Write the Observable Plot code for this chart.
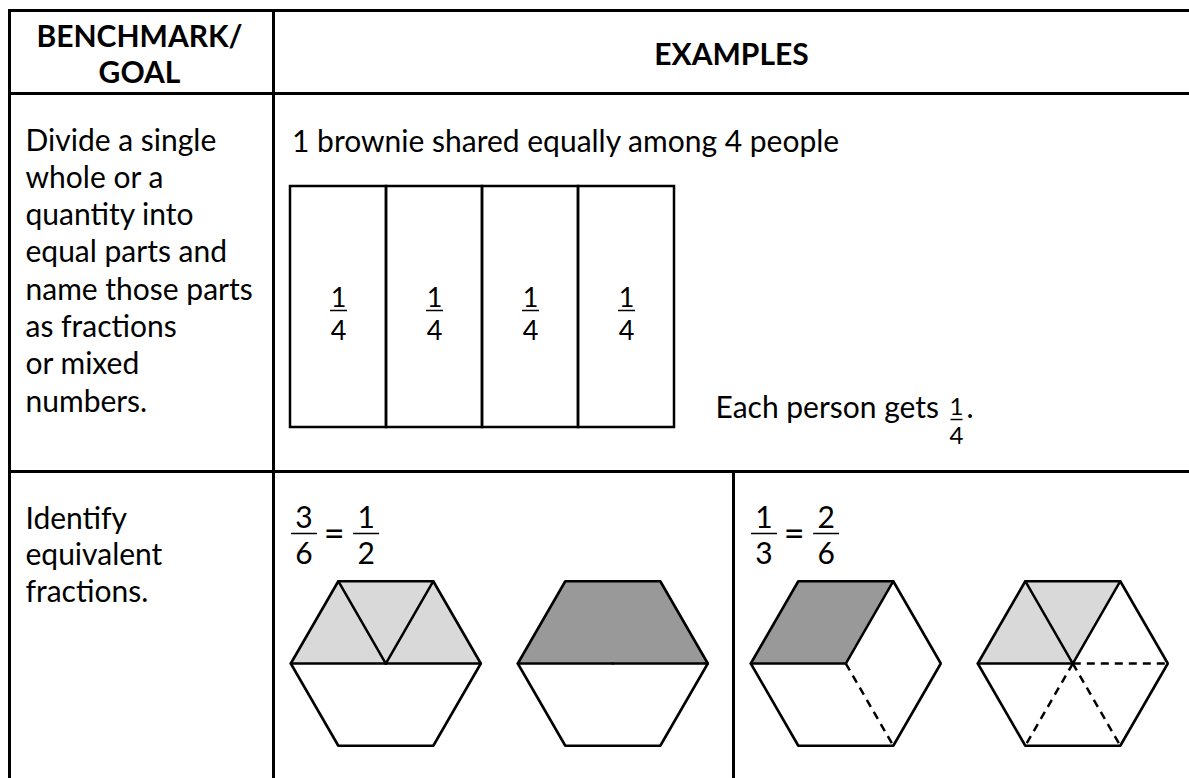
<!DOCTYPE html>
<html><head><meta charset="utf-8">
<script src="https://cdn.jsdelivr.net/npm/d3@7"></script>
<script src="https://cdn.jsdelivr.net/npm/@observablehq/plot@0.6"></script>
<style>html,body{margin:0;padding:0;background:#fff;} svg{display:block}</style>
</head><body><div id="chart"></div>
<script>
// ---------------- data ----------------
const headerLines = [["BENCHMARK/", "GOAL"], ["EXAMPLES"]];
const goalLines1 = ["Divide a single", "whole or a", "quantity into", "equal parts and", "name those parts", "as fractions", "or mixed", "numbers."];
const goalLines2 = ["Identify", "equivalent", "fractions."];
const exampleTitle = "1 brownie shared equally among 4 people";
const brownieNumerators = [1, 1, 1, 1];
const brownieDenominator = 4;
const eachGetsText = ["Each person gets", "."];
const eachGetsFraction = [1, 4];
const equivalences = [[[3, 6], [1, 2]], [[1, 3], [2, 6]]];
// hexagon models: sectors numbered from the right vertex counter-clockwise (0..5), spokes in degrees
const hexModels = [
  {group: 0, pieces: [[0], [1], [2]], shade: "light", solid: [0, 60, 120, 180], dashed: []},
  {group: 0, pieces: [[0, 1, 2]], shade: "dark", solid: [0, 180], dashed: []},
  {group: 1, pieces: [[1, 2]], shade: "dark", solid: [60, 180], dashed: [300]},
  {group: 1, pieces: [[1], [2]], shade: "light", solid: [60, 120, 180], dashed: [0, 240, 300]}
];
const shades = {light: "#d9d9d9", dark: "#999999"};

// ---------------- layout ----------------
const W = 1189, H = 778;
const L = {left: 9, split: 273, right: 1189, split2: 733, top: 10, head: 93, row: 471, bottom: 778};
const FONT = "Lato, 'Open Sans', sans-serif";
const BODY = 30;

const texts = [];
const bars = [];
function addText(x, y, text, opts = {}) {
  texts.push({x, y, text, size: opts.size ?? BODY, weight: opts.weight ?? "normal", anchor: opts.anchor ?? "start"});
}
function addFraction(cx, barY, num, den, size, barW, gapN, gapD) {
  addText(cx, barY - gapN, String(num), {size, anchor: "middle"});
  addText(cx, barY + gapD, String(den), {size, anchor: "middle"});
  bars.push({x1: cx - barW / 2, x2: cx + barW / 2, y1: barY, y2: barY});
}

// table lines
const tableLines = [
  {x1: L.left, y1: L.top, x2: L.right, y2: L.top},
  {x1: L.left, y1: L.head, x2: L.right, y2: L.head},
  {x1: L.left, y1: L.row, x2: L.right, y2: L.row},
  {x1: L.left, y1: L.top, x2: L.left, y2: L.bottom},
  {x1: L.split, y1: L.top, x2: L.split, y2: L.bottom},
  {x1: L.split2, y1: L.row, x2: L.split2, y2: L.bottom}
];

// headers
headerLines[0].forEach((t, i) => addText((L.left + L.split) / 2 - 2, L.top + 36 + i * 36, t, {weight: "bold", anchor: "middle"}));
headerLines[1].forEach((t, i) => addText((L.split + L.right) / 2, L.top + 54 + i * 36, t, {weight: "bold", anchor: "middle"}));

// goals
const step = 37.3;
goalLines1.forEach((t, i) => addText(L.left + 16, L.head + 57 + i * step, t));
goalLines2.forEach((t, i) => addText(L.left + 16, L.row + 57 + i * 36.5, t));

// example 1
addText(L.split + 18.5, L.head + 58, exampleTitle);
const box = {x: L.split + 17, y: L.head + 93, w: 384, h: 241};
const cellW = box.w / brownieNumerators.length;
const boxCells = brownieNumerators.map((n, i) => ({x1: box.x + i * cellW, x2: box.x + (i + 1) * cellW, y1: box.y, y2: box.y + box.h}));
brownieNumerators.forEach((n, i) => addFraction(box.x + (i + 0.5) * cellW, box.y + 124, n, brownieDenominator, 27, 17, 4, 29.5));
addText(715, L.row - 54, eachGetsText[0]);
addFraction(956, L.row - 52, eachGetsFraction[0], eachGetsFraction[1], 24, 12, 5, 24.5);
addText(966, L.row - 54, eachGetsText[1]);

// example 2: equivalences
const cellLefts = [L.split, L.split2];
const eqOffsets = [30.5, 60.7, 92.6];
const eqBarY = L.row + 62;
equivalences.forEach((pair, g) => {
  const x0 = cellLefts[g];
  addFraction(x0 + eqOffsets[0], eqBarY, pair[0][0], pair[0][1], 30, 26, 5.5, 30.5);
  addText(x0 + eqOffsets[1], eqBarY + 0.5, "=", {size: 36, anchor: "middle"});
  addFraction(x0 + eqOffsets[2], eqBarY, pair[1][0], pair[1][1], 30, 26, 5.5, 30.5);
});
const eqSigns = texts.filter(d => d.text === "=");
const plainTexts = texts.filter(d => d.text !== "=");

// hexagons
const R = 95, hexCY = L.row + 192;
const hexOffsets = [112.3, 339.3];
const vtx = (cx, a) => [cx + R * Math.cos(a * Math.PI / 180), hexCY - R * Math.sin(a * Math.PI / 180)];
const polys = [], outlines = [], solidSpokes = [], dashedSpokes = [];
let groupCount = [0, 0];
hexModels.forEach((m, h) => {
  const cx = cellLefts[m.group] + hexOffsets[groupCount[m.group]++];
  for (let k = 0; k < 6; k++) { const [x, y] = vtx(cx, k * 60); outlines.push({id: h, x, y}); }
  m.pieces.forEach((secs, p) => {
    const id = `${h}-${p}`;
    polys.push({id, shade: m.shade, x: cx, y: hexCY});
    for (let k = secs[0]; k <= secs[secs.length - 1] + 1; k++) { const [x, y] = vtx(cx, k * 60); polys.push({id, shade: m.shade, x, y}); }
  });
  m.solid.forEach(a => { const [x, y] = vtx(cx, a); solidSpokes.push({x1: cx, y1: hexCY, x2: x, y2: y}); });
  m.dashed.forEach(a => { const [x, y] = vtx(cx, a); dashedSpokes.push({x1: cx, y1: hexCY, x2: x, y2: y}); });
});

const textMark = (data, lineAnchor) => [...new Set(data.map(d => d.size + "|" + d.weight + "|" + d.anchor))].map(key => {
  const [size, weight, anchor] = key.split("|");
  return Plot.text(data.filter(d => d.size + "|" + d.weight + "|" + d.anchor === key), {
    x: "x", y: "y", text: "text", fontSize: +size, fontWeight: weight, textAnchor: anchor,
    lineAnchor, fill: "black", fontFamily: FONT
  });
});

const chart = Plot.plot({
  width: W, height: H, margin: 0,
  x: {domain: [0, W], range: [0, W], axis: null},
  y: {domain: [0, H], range: [0, H], axis: null},
  style: {background: "white", fontFamily: FONT},
  marks: [
    Plot.line(polys.filter(d => d.shade === "light"), {x: "x", y: "y", z: "id", fill: shades.light, stroke: "none", curve: "linear-closed"}),
    Plot.line(polys.filter(d => d.shade === "dark"), {x: "x", y: "y", z: "id", fill: shades.dark, stroke: "none", curve: "linear-closed"}),
    Plot.link(dashedSpokes, {x1: "x1", y1: "y1", x2: "x2", y2: "y2", stroke: "black", strokeWidth: 2.5, strokeDasharray: "8,6"}),
    Plot.link(solidSpokes, {x1: "x1", y1: "y1", x2: "x2", y2: "y2", stroke: "black", strokeWidth: 2.5, strokeLinecap: "round"}),
    Plot.line(outlines, {x: "x", y: "y", z: "id", stroke: "black", strokeWidth: 2.6, fill: "none", curve: "linear-closed", strokeLinejoin: "miter"}),
    Plot.rect(boxCells, {x1: "x1", x2: "x2", y1: "y1", y2: "y2", fill: "none", stroke: "black", strokeWidth: 2.5}),
    Plot.link(bars, {x1: "x1", y1: "y1", x2: "x2", y2: "y2", stroke: "black", strokeWidth: 1.5}),
    Plot.link(tableLines, {x1: "x1", y1: "y1", x2: "x2", y2: "y2", stroke: "black", strokeWidth: 3, strokeLinecap: "square"}),
    ...textMark(plainTexts, "bottom"),
    ...textMark(eqSigns, "middle")
  ]
});
document.getElementById("chart").appendChild(chart);
</script>
</body></html>
